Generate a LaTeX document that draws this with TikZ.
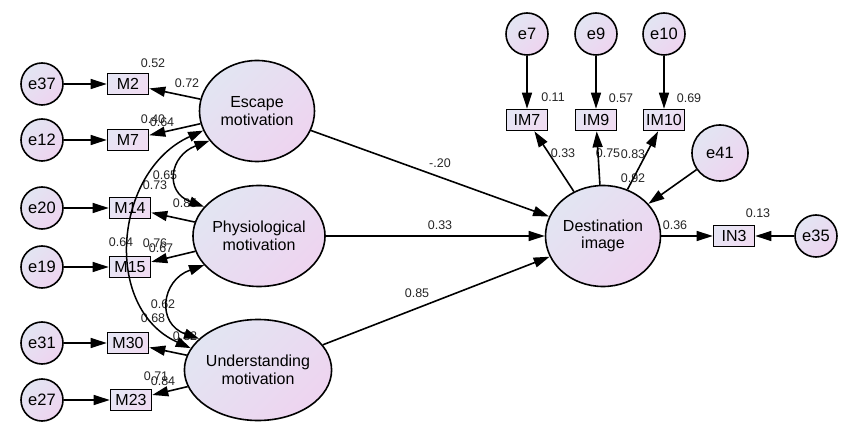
\documentclass[tikz,border=0pt]{standalone}
\usepackage{fontspec}
\setmainfont{Liberation Sans}
\usetikzlibrary{arrows.meta,shapes.geometric}
\definecolor{shA}{RGB}{226,229,242}
\definecolor{shB}{RGB}{238,212,240}
\definecolor{bxA}{RGB}{230,229,244}
\definecolor{bxB}{RGB}{240,220,242}
\begin{document}
\begin{tikzpicture}[x=1pt,y=-1pt,
 lat/.style={ellipse, draw, line width=1.6pt, minimum width=115pt, minimum height=101pt, inner sep=0pt, top color=shA, bottom color=shB, shading angle=45, align=center, font=\fontsize{16}{17.5}\selectfont},
 err/.style={circle, draw, line width=1.6pt, minimum size=42pt, inner sep=0pt, top color=shA, bottom color=shB, shading angle=45, font=\fontsize{16.5}{18}\selectfont},
 obs/.style={rectangle, draw, line width=1.6pt, minimum width=41pt, minimum height=21pt, inner sep=1pt, top color=bxA, bottom color=bxB, shading angle=45, font=\fontsize{16}{17}\selectfont},
 arr/.style={line width=1.6pt, -{Triangle[length=16pt,width=10pt]}},
 cov/.style={line width=1.5pt, {Triangle[length=15pt,width=10pt]}-{Triangle[length=15pt,width=10pt]}},
 lbl/.style={font=\fontsize{12.5}{13}\selectfont, inner sep=0pt, text=black!85}
]
\fill[white] (0,0) rectangle (850,443);
\useasboundingbox (0,0) rectangle (850,443);

% labels (drawn first, arrows may cover them)
\node[lbl] (l01) at (153,63) {0.52};
\node[lbl] (l02) at (187,83) {0.72};
\node[lbl] (l03) at (153,119) {0.40};
\node[lbl] (l04) at (162,122) {0.64};
\node[lbl] (l05) at (165,175) {0.65};
\node[lbl] (l06) at (155,185) {0.73};
\node[lbl] (l07) at (185,203) {0.85};
\node[lbl] (l08) at (121,242) {0.64};
\node[lbl] (l09) at (155,243) {0.76};
\node[lbl] (l10) at (161,248) {0.67};
\node[lbl] (l11) at (163,304) {0.62};
\node[lbl] (l12) at (153,318) {0.68};
\node[lbl] (l13) at (185,336) {0.82};
\node[lbl] (l14) at (156,376) {0.71};
\node[lbl] (l15) at (163,381) {0.84};
\node[lbl] (l16) at (440,163) {-.20};
\node[lbl] (l17) at (440,225) {0.33};
\node[lbl] (l18) at (417,293) {0.85};
\node[lbl] (l19) at (553,97) {0.11};
\node[lbl] (l20) at (621,98) {0.57};
\node[lbl] (l21) at (689,98) {0.69};
\node[lbl] (l22) at (563,153) {0.33};
\node[lbl] (l23) at (608,153) {0.75};
\node[lbl] (l24) at (633,154) {0.83};
\node[lbl] (l25) at (633,178) {0.92};
\node[lbl] (l26) at (675,225) {0.36};
\node[lbl] (l27) at (758,213) {0.13};

% error terms
\node[err] (e37) at (42,84) {e37};
\node[err] (e12) at (42,140) {e12};
\node[err] (e20) at (42,208) {e20};
\node[err] (e19) at (42,267) {e19};
\node[err] (e31) at (42,343) {e31};
\node[err] (e27) at (42,400) {e27};
% indicators
\node[obs] (M2) at (128,84) {M2};
\node[obs] (M7) at (128,140) {M7};
\node[obs] (M14) at (130,208) {M14};
\node[obs] (M15) at (130,267) {M15};
\node[obs] (M30) at (128,343) {M30};
\node[obs] (M23) at (131,400) {M23};
% latent
\node[lat] (esc) at (257,111) {Escape\\motivation};
\node[lat] (phy) at (259,236) {Physiological\\motivation};
\node[lat] (und) at (258,370) {Understanding\\motivation};
\node[lat] (dst) at (603,236) {Destination\\image};
% right side
\node[err] (e7) at (527,34) {e7};
\node[err] (e9) at (596,34) {e9};
\node[err] (e10) at (664,34) {e10};
\node[obs] (IM7) at (527,120) {IM7};
\node[obs] (IM9) at (596,120) {IM9};
\node[obs] (IM10) at (664,120) {IM10};
\node[err, minimum size=56pt] (e41) at (720,153) {e41};
\node[obs] (IN3) at (734,236) {IN3};
\node[err] (e35) at (816,236) {e35};

% arrows
\draw[arr] (e37) -- (M2);
\draw[arr] (e12) -- (M7);
\draw[arr] (e20) -- (M14);
\draw[arr] (e19) -- (M15);
\draw[arr] (e31) -- (M30);
\draw[arr] (e27) -- (M23);
\draw[arr] (esc) -- (M2);
\draw[arr] (esc) -- (M7);
\draw[arr] (phy) -- (M14);
\draw[arr] (phy) -- (M15);
\draw[arr] (und) -- (M30);
\draw[arr] (und) -- (M23);
\draw[arr] (esc) -- (dst);
\draw[arr] (phy) -- (dst);
\draw[arr] (und) -- (dst);
\draw[arr] (dst) -- (IM7);
\draw[arr] (dst) -- (IM9);
\draw[arr] (dst) -- (IM10);
\draw[arr] (dst) -- (IN3);
\draw[arr] (e7) -- (IM7);
\draw[arr] (e9) -- (IM9);
\draw[arr] (e10) -- (IM10);
\draw[arr] (e41) -- (dst);
\draw[arr] (e35) -- (IN3);

% covariances
\draw[cov] (esc.200) .. controls +(-89,40) and +(-89,-40) .. (und.162);
\draw[cov] (esc.212) .. controls +(-40,15) and +(-40,-15) .. (phy.152);
\draw[cov] (phy.208) .. controls +(-43,15) and +(-43,-15) .. (und.152);
\end{tikzpicture}
\end{document}
